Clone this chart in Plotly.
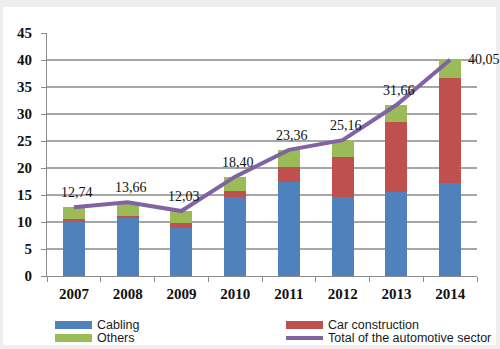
import plotly.graph_objects as go

# Market size by year (values in the chart's units)
years = ["2007", "2008", "2009", "2010", "2011", "2012", "2013", "2014"]
cabling = [10.0, 10.7, 8.8, 14.6, 17.5, 14.7, 15.6, 17.2]
car_construction = [0.5, 0.5, 1.1, 1.2, 2.6, 7.4, 12.9, 19.4]
totals = [12.74, 13.66, 12.03, 18.40, 23.36, 25.16, 31.66, 40.05]
others = [round(t - a - b, 2) for t, a, b in zip(totals, cabling, car_construction)]

series_names = ["Cabling", "Car construction", "Others", "Total of the automotive sector"]
colors = ["#4F81BD", "#C0504D", "#9BBB59", "#8064A2"]

W, H = 500, 349
ML, MR, MT, MB = 47, 23, 33, 73
PW, PH = W - ML - MR, H - MT - MB


def px_x(x):
    return (x - ML) / PW


def px_y(y):
    return (H - MB - y) / PH


fig = go.Figure()
for name, vals, col in zip(series_names[:3], [cabling, car_construction, others], colors[:3]):
    fig.add_trace(go.Bar(x=years, y=vals, name=name, marker=dict(color=col, line=dict(width=0)),
                         width=0.41, showlegend=False))

fig.add_trace(go.Scatter(x=years, y=totals, name=series_names[3], mode="lines",
                         line=dict(color=colors[3], width=4), showlegend=False))

# Value labels for the total line (x given as category index)
label_font = dict(family="Liberation Serif", size=14, color="#111")
for i, t in enumerate(totals):
    txt = f"{t:.2f}".replace(".", ",")
    if i == len(totals) - 1:
        fig.add_annotation(x=i, y=t, text=txt, showarrow=False, xanchor="left", yanchor="middle",
                           xshift=16, yshift=0, font=label_font)
    else:
        fig.add_annotation(x=i, y=t, text=txt, showarrow=False, xanchor="center", yanchor="bottom",
                           xshift=3, yshift=5, font=label_font)

# Frame around the chart
shapes = [dict(type="rect", xref="paper", yref="paper", x0=px_x(3), x1=px_x(496), y0=px_y(345), y1=px_y(7),
               fillcolor="white", line=dict(width=0), layer="below")]

# Legend drawn as swatches and labels
legend_items = [
    (series_names[0], colors[0], 55, 325, "bar"),
    (series_names[2], colors[2], 55, 338, "bar"),
    (series_names[1], colors[1], 286, 325, "bar"),
    (series_names[3], colors[3], 286, 338, "line"),
]
for name, col, x0, yc, kind in legend_items:
    if kind == "bar":
        shapes.append(dict(type="rect", xref="paper", yref="paper", x0=px_x(x0), x1=px_x(x0 + 37),
                           y0=px_y(yc + 4), y1=px_y(yc - 4), fillcolor=col, line=dict(width=0)))
    else:
        shapes.append(dict(type="line", xref="paper", yref="paper", x0=px_x(x0), x1=px_x(x0 + 37),
                           y0=px_y(yc), y1=px_y(yc), line=dict(color=col, width=4)))
    fig.add_annotation(xref="paper", yref="paper", x=px_x(x0 + 41), y=px_y(yc), text=name,
                       showarrow=False, xanchor="left", yanchor="middle", borderpad=0,
                       font=dict(family="Liberation Sans", size=12.5, color="#1a1a1a"))

tick_font = dict(family="Liberation Serif", size=15, color="#111", weight="bold")
fig.update_layout(
    width=W, height=H,
    margin=dict(l=ML, r=MR, t=MT, b=MB, pad=0),
    barmode="stack",
    paper_bgcolor="#eeeeee",
    plot_bgcolor="white",
    shapes=shapes,
    xaxis=dict(type="category", range=[-0.5, len(years) - 0.5], showline=True, linecolor="#8c8c8c",
               linewidth=1, ticks="outside", tickson="boundaries", ticklen=5, tickcolor="#8c8c8c",
               tickfont=tick_font, showgrid=False, tickangle=0, ticklabelstandoff=4),
    yaxis=dict(range=[0, 45], dtick=5, showline=True, linecolor="#8c8c8c", linewidth=1,
               ticks="outside", ticklen=5, tickcolor="#8c8c8c", tickfont=tick_font,
               showgrid=True, gridcolor="#a6a6a6", gridwidth=1.5, zeroline=False,
               ticklabelstandoff=6),
)

fig.write_html("out.html")
